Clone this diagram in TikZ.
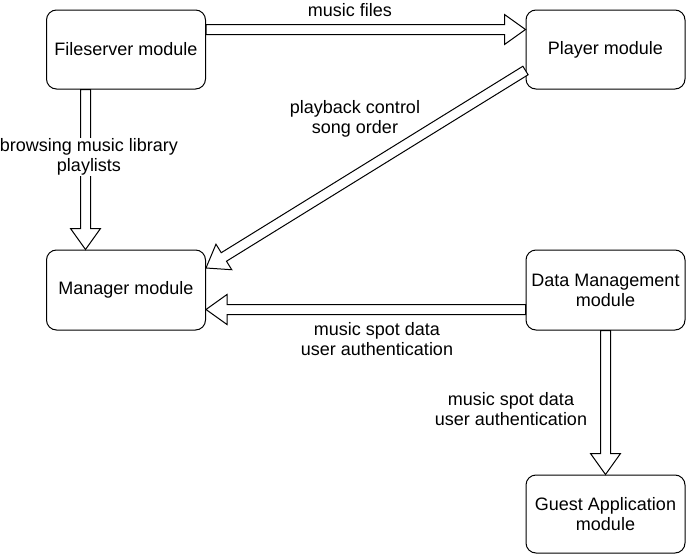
\documentclass[tikz,border=0pt]{standalone}
\usepackage{fontspec}
\setmainfont{Liberation Sans}
\usetikzlibrary{calc}

% hollow block arrow from #1 to #2
\newcommand{\flexarrow}[2]{%
  \coordinate (fa-h) at ($(#2)!21pt!(#1)$);
  \draw [flexline] ($(#1)!5pt!90:(#2)$) -- ($(fa-h)!5pt!90:(#2)$)
    -- ($(fa-h)!15pt!90:(#2)$) -- (#2) -- ($(fa-h)!15pt!-90:(#2)$)
    -- ($(fa-h)!5pt!-90:(#2)$) -- ($(#1)!5pt!-90:(#2)$) -- cycle;
}

\begin{document}
\begin{tikzpicture}[x=1pt, y=-1pt, line width=1pt,
    module/.style={draw, rounded corners=10pt, minimum width=159pt,
      minimum height=79pt, align=center, font=\fontsize{18}{20}\selectfont},
    flexline/.style={draw, fill=white, line join=miter},
    lbl/.style={fill=white, inner sep=1pt, align=center,
      font=\fontsize{18}{20}\selectfont}]
  \useasboundingbox (0,0) rectangle (686,554);

  \node [module] (fs) at (126, 49.5) {Fileserver module};
  \node [module] (pl) at (605.5, 49.5) {Player module};
  \node [module, minimum height=80pt] (mg) at (126, 290) {Manager module};
  \node [module, minimum height=80pt] (dm) at (605.5, 290) {Data Management\\module};
  \node [module, minimum height=78pt] (ga) at (605.5, 514) {Guest Application\\module};

  \coordinate (mf-a) at ([yshift=20pt]fs.east);
  \coordinate (mf-b) at (pl.west |- mf-a);
  \coordinate (br-a) at ([xshift=-40.5pt]fs.south);
  \coordinate (br-b) at (mg.north -| br-a);
  \coordinate (pb-a) at ([yshift=-21pt]pl.west);
  \coordinate (pb-b) at ([yshift=22pt]mg.east);
  \coordinate (sp-a) at ([yshift=-19.5pt]dm.west);
  \coordinate (sp-b) at (mg.east |- sp-a);
  \coordinate (gs-a) at (dm.south);
  \coordinate (gs-b) at (ga.north);

  \flexarrow{mf-a}{mf-b}
  \flexarrow{br-a}{br-b}
  \flexarrow{pb-a}{pb-b}
  \flexarrow{sp-a}{sp-b}
  \flexarrow{gs-a}{gs-b}

  \node [lbl] (l-mf) at (350, 10) {music files};
  \node [lbl] (l-br) at (89, 157) {browsing music library\\playlists};
  \node [lbl, fill=none] (l-pb) at (355, 119) {playback control\\song order};
  \node [lbl] (l-sp) at (377, 339.5) {music spot data\\user authentication};
  \node [lbl] (l-gs) at (511, 409.5) {music spot data\\user authentication};
\end{tikzpicture}
\end{document}
